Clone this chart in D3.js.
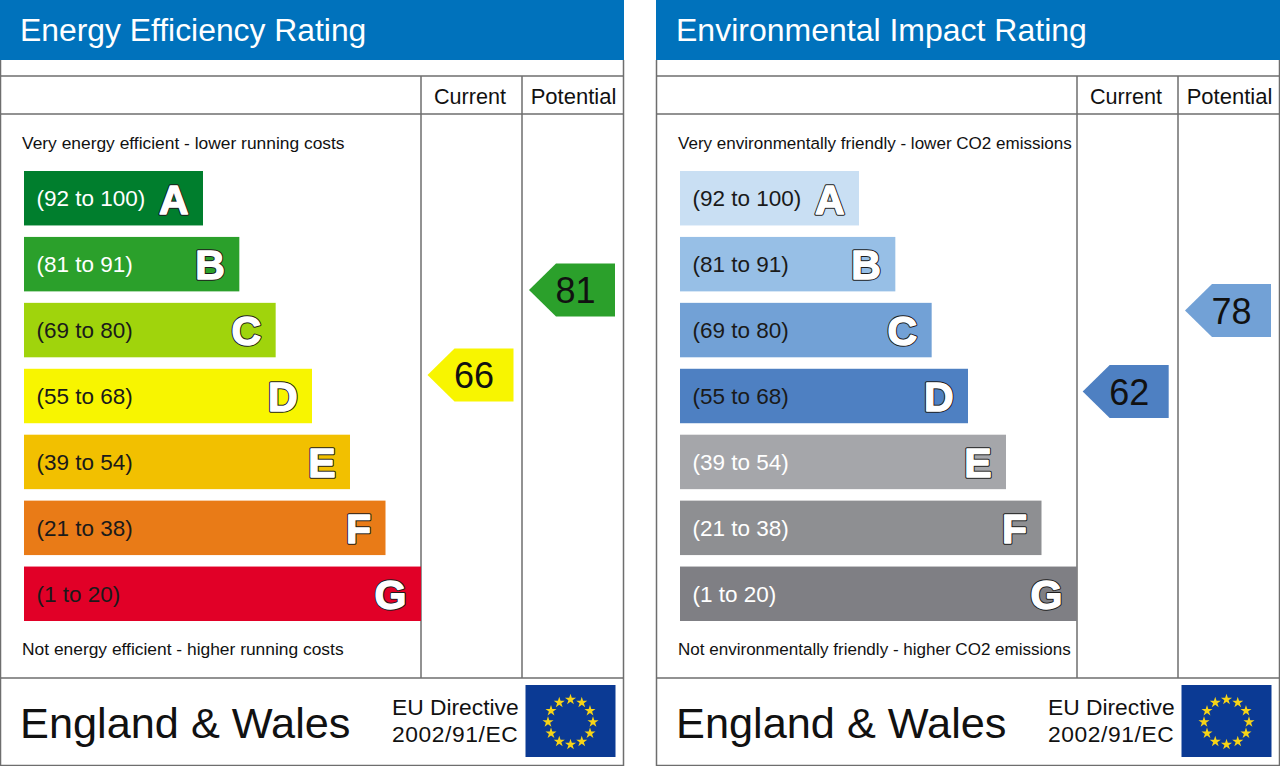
<!DOCTYPE html>
<html>
<head>
<meta charset="utf-8">
<script src="https://cdn.jsdelivr.net/npm/d3@7"></script>
<style>
  html, body { margin: 0; padding: 0; background: #fff; overflow: hidden; }
  svg { display: block; }
  text { font-family: "Liberation Sans", Arial, sans-serif; }
  .grade { font-weight: 700; stroke-linejoin: round; }
</style>
</head>
<body>
<script>
const letters = ["A", "B", "C", "D", "E", "F", "G"]
const bandLabels = ["(92 to 100)", "(81 to 91)", "(69 to 80)", "(55 to 68)", "(39 to 54)", "(21 to 38)", "(1 to 20)"]
const columnTitles = ["Current", "Potential"]

const energyColors = ["#007e2d", "#2ba02b", "#a0d40c", "#f8f500", "#f2c000", "#e97b17", "#e10027"]
const energyLabelColors = ["#fff", "#fff", "#1a1a1a", "#1a1a1a", "#1a1a1a", "#1a1a1a", "#1a1a1a"]
const energyRatings = [66, 81]

const envColors = ["#c9dff3", "#97bfe6", "#72a1d6", "#4e80c2", "#a5a6aa", "#8e8f92", "#7f7f84"]
const envLabelColors = ["#1a1a1a", "#1a1a1a", "#1a1a1a", "#1a1a1a", "#fff", "#fff", "#fff"]
const envRatings = [62, 78]

const width = 1280, height = 766
const lineColor = "#6e6e6e"

const svg = d3.select("body").append("svg").attr("width", width).attr("height", height)

// bars grow one step per band, E and F sit a touch wider than a straight run
const barLength = d3.scaleLinear().domain([0, 3, 4, 6]).range([179, 288, 326, 397])
const barY = d3.scaleBand().domain(letters).range([171, 621]).paddingInner(0.174)
const arrowShape = d3.line()

const panel = (opts) => {
  const g = svg.append("g").attr("transform", "translate(" + opts.x + ",0)")

  g.append("rect").attr("width", 624).attr("height", 60).attr("fill", "#0072bc")
  g.append("text").attr("x", 20).attr("y", 41).attr("font-size", opts.titleSize).attr("fill", "#fff").text(opts.title)

  // frame
  const hLines = [76, 114, 678, 765.5]
  g.selectAll(".h").data(hLines).enter().append("line")
    .attr("x1", 0).attr("x2", 624).attr("y1", d => d).attr("y2", d => d)
    .attr("stroke", lineColor).attr("stroke-width", 1.5)
  g.selectAll(".side").data([0.5, 623.5]).enter().append("line")
    .attr("x1", d => d).attr("x2", d => d).attr("y1", 60).attr("y2", 766)
    .attr("stroke", lineColor).attr("stroke-width", 1.5)

  const columnX = d3.scaleOrdinal().domain(columnTitles).range([421, 522])
  const titleMid = d3.scaleOrdinal().domain(columnTitles).range([49, 51.5])
  g.selectAll(".v").data(columnTitles).enter().append("line")
    .attr("x1", d => columnX(d)).attr("x2", d => columnX(d)).attr("y1", 76).attr("y2", 678)
    .attr("stroke", lineColor).attr("stroke-width", 1.5)
  g.selectAll(".col").data(columnTitles).enter().append("text")
    .attr("x", d => columnX(d) + titleMid(d)).attr("y", 104).attr("text-anchor", "middle")
    .attr("font-size", (d, i) => i ? 22 : 21.6).attr("fill", "#111").text(d => d)

  g.append("text").attr("x", 22).attr("y", 149).attr("font-size", opts.noteSize).attr("fill", "#111").text(opts.top)
  g.append("text").attr("x", 22).attr("y", 655).attr("font-size", opts.noteSize).attr("fill", "#111").text(opts.bottom)

  // bands
  const bars = g.selectAll(".band").data(letters).enter().append("g")
  bars.append("rect")
    .attr("x", 24).attr("y", d => barY(d))
    .attr("width", (d, i) => barLength(i)).attr("height", barY.bandwidth())
    .attr("fill", (d, i) => opts.colors[i])
  bars.append("text")
    .attr("x", 36.5).attr("y", d => barY(d) + 35.4)
    .attr("font-size", 22.5).attr("fill", (d, i) => opts.labelColors[i])
    .text((d, i) => bandLabels[i])

  // grade letter: dark outline under a white fattened face
  const grade = (sw, col) => bars.append("text").attr("class", "grade")
    .attr("x", (d, i) => 24 + barLength(i) - 14.5).attr("y", d => barY(d) + 42.5)
    .attr("text-anchor", "end").attr("font-size", 41)
    .attr("fill", col).attr("stroke", col).attr("stroke-width", sw)
    .text(d => d)
  grade(3.4, "#1c1c1c")
  grade(1.4, "#fff")

  // rating arrows
  const ratingY = d3.scaleLinear().domain(opts.ratingDomain).range(opts.ratingRange)
  const arrows = g.selectAll(".arrow").data(opts.ratings).enter().append("g")
    .attr("transform", (d, i) => "translate(" + opts.arrowRight[i] + "," + ratingY(d) + ")")
  arrows.append("path")
    .attr("d", arrowShape([[0, -26.5], [0, 26.5], [-59, 26.5], [-86, 0], [-59, -26.5]]) + "Z")
    .attr("fill", d => opts.colors[letters.indexOf(bandOf(d))])
  arrows.append("text")
    .attr("x", -39.5).attr("y", 13).attr("text-anchor", "middle")
    .attr("font-size", 36).attr("fill", "#111").text(d => d)

  // footer
  g.append("text").attr("x", 20).attr("y", 738).attr("font-size", 43.3).attr("fill", "#111").text("England & Wales")
  g.append("text").attr("x", 392).attr("y", 715).attr("font-size", 22.8).attr("fill", "#111").text("EU Directive")
  g.append("text").attr("x", 392).attr("y", 742).attr("font-size", 22.8).attr("letter-spacing", 0.6).attr("fill", "#111").text("2002/91/EC")

  g.append("rect").attr("x", 525.5).attr("y", 685).attr("width", 90).attr("height", 72).attr("fill", "#0b3a94")
  const star = d3.symbol().type(d3.symbolStar).size(38)
  g.selectAll(".star").data(d3.range(12)).enter().append("path")
    .attr("d", star).attr("fill", "#f7d417")
    .attr("transform", d => {
      const a = d / 12 * 2 * Math.PI
      return "translate(" + (570.5 + 22.5 * Math.sin(a)) + "," + (722 - 22.5 * Math.cos(a)) + ")"
    })
}

const bandOf = (v) => v >= 92 ? "A" : v >= 81 ? "B" : v >= 69 ? "C" : v >= 55 ? "D" : v >= 39 ? "E" : v >= 21 ? "F" : "G"

panel({
  x: 0, title: "Energy Efficiency Rating", titleSize: 31.85, noteSize: 17.4,
  top: "Very energy efficient - lower running costs",
  bottom: "Not energy efficient - higher running costs",
  colors: energyColors, labelColors: energyLabelColors, ratings: energyRatings,
  ratingDomain: [66, 81], ratingRange: [375, 290], arrowRight: [513.5, 615]
})
panel({
  x: 656, title: "Environmental Impact Rating", titleSize: 32, noteSize: 17.05,
  top: "Very environmentally friendly - lower CO2 emissions",
  bottom: "Not environmentally friendly - higher CO2 emissions",
  colors: envColors, labelColors: envLabelColors, ratings: envRatings,
  ratingDomain: [62, 78], ratingRange: [391.5, 310.5], arrowRight: [512.7, 615]
})
</script>
</body>
</html>
